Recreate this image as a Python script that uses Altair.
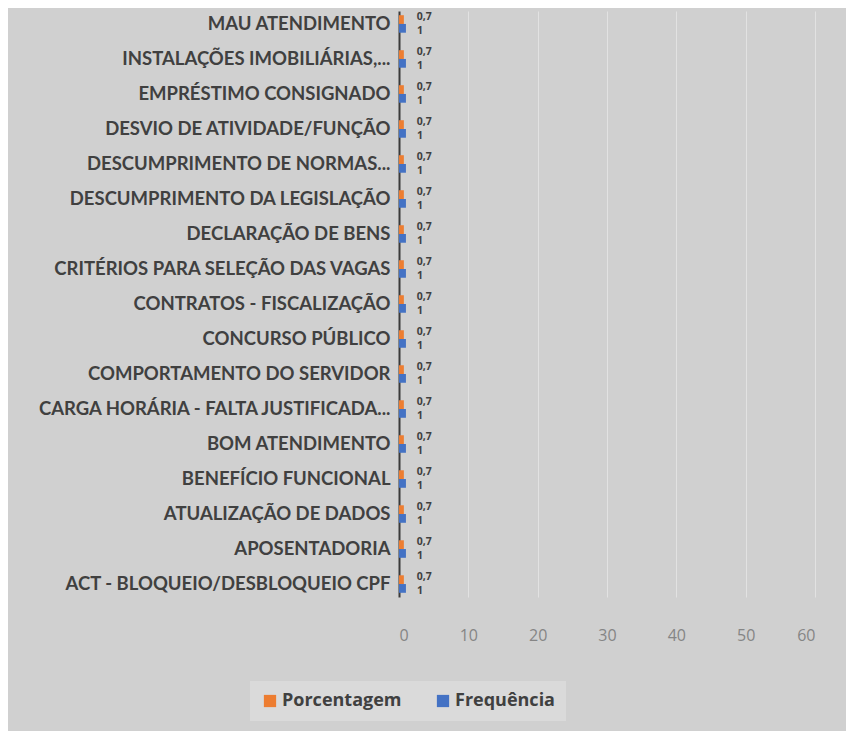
import altair as alt
import pandas as pd

categories = [
    "MAU ATENDIMENTO",
    "INSTALAÇÕES IMOBILIÁRIAS,...",
    "EMPRÉSTIMO CONSIGNADO",
    "DESVIO DE ATIVIDADE/FUNÇÃO",
    "DESCUMPRIMENTO DE NORMAS...",
    "DESCUMPRIMENTO DA LEGISLAÇÃO",
    "DECLARAÇÃO DE BENS",
    "CRITÉRIOS PARA SELEÇÃO DAS VAGAS",
    "CONTRATOS - FISCALIZAÇÃO",
    "CONCURSO PÚBLICO",
    "COMPORTAMENTO DO SERVIDOR",
    "CARGA HORÁRIA - FALTA JUSTIFICADA...",
    "BOM ATENDIMENTO",
    "BENEFÍCIO FUNCIONAL",
    "ATUALIZAÇÃO DE DADOS",
    "APOSENTADORIA",
    "ACT - BLOQUEIO/DESBLOQUEIO CPF",
]
porcentagem = [0.7, 0.7, 0.7, 0.7, 0.7, 0.7, 0.7, 0.7, 0.7, 0.7, 0.7, 0.7, 0.7, 0.7, 0.7, 0.7, 0.7]
frequencia = [1, 1, 1, 1, 1, 1, 1, 1, 1, 1, 1, 1, 1, 1, 1, 1, 1]
series = ["Porcentagem", "Frequência"]
colors = ["#ED7D31", "#4472C4"]
x_ticks = [0, 10, 20, 30, 40, 50, 60]

rows = []
for c, p, f in zip(categories, porcentagem, frequencia):
    rows.append({"category": c, "series": series[0], "value": p})
    rows.append({"category": c, "series": series[1], "value": f})
df = pd.DataFrame(rows)
df["label"] = df["value"].map(lambda v: (f"{v:g}").replace(".", ","))

label_font = "Lato"

base = alt.Chart(df).encode(
    y=alt.Y(
        "category:N",
        sort=categories,
        title=None,
        scale=alt.Scale(paddingInner=0.5, paddingOuter=0.12),
        axis=alt.Axis(
            labelFont=label_font,
            labelFontWeight="bold",
            labelFontSize=18.5,
            labelColor="#404040",
            labelLimit=420,
            labelPadding=9,
            ticks=False,
            domainColor="#3a3a3a",
            domainWidth=2,
            minExtent=386,
            maxExtent=386,
            grid=False,
        ),
    ),
    yOffset=alt.YOffset("series:N", sort=series),
    x=alt.X(
        "value:Q",
        title=None,
        scale=alt.Scale(domain=[0, 60], nice=False),
        axis=alt.Axis(
            values=x_ticks,
            labelFont="Open Sans",
            labelFontSize=16,
            labelColor="#858585",
            labelPadding=30,
            ticks=False,
            domain=False,
            grid=True,
            gridColor="#e2e2e2",
            gridWidth=1,
        ),
    ),
)

bars = base.mark_bar().encode(
    color=alt.Color(
        "series:N",
        sort=series,
        scale=alt.Scale(domain=series, range=colors),
        legend=alt.Legend(
            title=None,
            orient="none",
            legendX=-149,
            legendY=670,
            direction="horizontal",
            symbolType="square",
            symbolSize=150,
            symbolStrokeWidth=0,
            labelFont="Open Sans",
            labelFontWeight="bold",
            labelFontSize=18,
            labelColor="#404040",
            columnPadding=32,
            fillColor="#dadada",
            padding=11,
            labelOffset=3,
        ),
    )
)

text_orange = alt.Chart(df[df["series"] == series[0]]).mark_text(
    align="left", baseline="bottom", dx=13, dy=2,
    font="Open Sans", fontWeight="bold", fontSize=10.5, color="#404040",
)
text_blue = alt.Chart(df[df["series"] == series[1]]).mark_text(
    align="left", baseline="top", dx=11, dy=-2,
    font="Open Sans", fontWeight="bold", fontSize=10.5, color="#404040",
)

enc = dict(
    y=alt.Y("category:N", sort=categories),
    yOffset=alt.YOffset("series:N", sort=series),
    x=alt.X("value:Q"),
    text="label:N",
)
text_orange = text_orange.encode(**enc)
text_blue = text_blue.encode(**enc)

chart = (
    alt.layer(bars, text_orange, text_blue)
    .properties(width=416, height=586, padding={"left": 5, "top": 3, "right": 31, "bottom": 10})
    .configure(background="#d0d0d0")
    .configure_view(stroke=None)
)

chart.save("out.html", embed_options={"renderer": "svg", "actions": False})
